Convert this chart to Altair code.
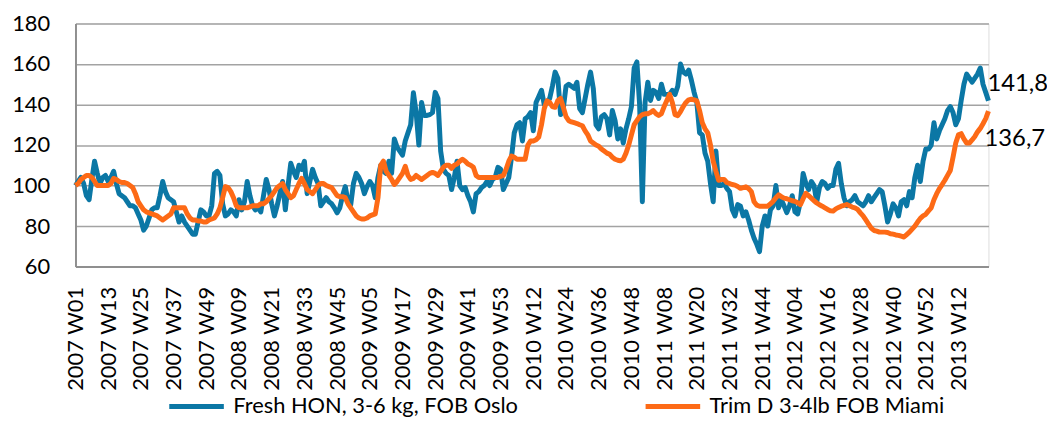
import altair as alt
import pandas as pd

# ---- categories -------------------------------------------------------------
years = [2007, 2008, 2009, 2010, 2011, 2012, 2013]
weeks_in_year = [52, 52, 53, 52, 52, 52, 23]
week_labels = [f"{y} W{w:02d}" for y, n in zip(years, weeks_in_year) for w in range(1, n + 1)]
tick_labels = week_labels[::12]

series_names = ["Fresh HON, 3-6 kg, FOB Oslo", "Trim D 3-4lb FOB Miami"]
series_colors = ["#0b77a5", "#fd6a16"]

# ---- series values (index, 2007 W01 = 100) -----------------------------------
fresh_hon = [
    100, 102, 104, 101, 95, 93, 103, 112, 106, 101, 104, 105,
    102, 104, 107, 101, 96, 95, 94, 92, 90, 90, 89, 86,
    83, 78, 80, 84, 88, 89, 89, 95, 102, 97, 94, 93,
    92, 87, 82, 85, 82, 80, 78, 76, 76, 82, 88, 87,
    85, 85, 90, 106, 107, 105, 91, 85, 86, 88, 87, 85,
    93, 88, 92, 102, 95, 90, 88, 89, 87, 95, 103, 98,
    91, 85, 90, 96, 102, 88, 100, 111, 107, 104, 110, 108,
    112, 96, 102, 108, 104, 101, 90, 92, 94, 92, 91, 89,
    86.5, 89, 95, 99.5, 92, 90.5, 101, 106, 104, 101, 96, 99.5,
    102, 100, 94, 104, 110, 107, 106, 112, 106, 123, 119, 117,
    115, 122, 126, 130, 145.8, 136, 120, 141, 134.6, 134.6, 135, 136,
    146, 143, 117, 108, 106, 105, 98, 104, 112, 100, 98, 99,
    95, 92, 87, 96, 97, 99, 100, 102, 100, 103, 104, 109,
    108, 98, 101, 104, 114, 126, 130, 131, 122, 133, 134, 136,
    127, 141, 144, 147, 140, 141, 143, 149, 156, 153, 135, 138,
    149, 150, 149, 148, 151, 138, 136, 143, 150, 156, 148, 130,
    128, 134, 135, 133, 125, 137, 132, 123, 128, 121, 128, 133,
    139, 158, 161, 140, 92, 141, 151, 142, 147, 146, 143, 150,
    145, 145, 145, 147, 145, 149, 160, 156, 155, 157, 152, 146,
    141, 126, 125, 116, 112, 101, 92, 117, 100, 100, 101, 98.6,
    97, 88, 85, 90.6, 89.8, 85, 87, 83, 78, 74, 71, 67.4,
    80, 85, 80, 88, 90, 100, 89, 93, 90, 86.6, 90, 95,
    87, 86, 92, 106, 101, 98, 102, 100, 92, 99, 102, 101,
    98.6, 100, 100, 108, 111, 101, 94, 90, 92, 93, 95, 92,
    91, 90, 92, 95, 92, 94, 96, 98, 97, 90, 82, 86,
    91, 89, 85, 92, 93, 90, 97, 94, 104, 110, 102, 112,
    118, 118, 120, 131, 123, 127, 130, 133, 137, 139, 136, 130,
    133, 142, 150, 155, 153, 151, 153, 155, 158, 150, 146, 141.8,
]

trim_d = [
    100, 101, 103, 104, 105, 105, 104, 102, 100, 100, 100, 100,
    100, 101, 103.5, 103, 102, 101.5, 101.5, 101, 100, 99, 96, 92,
    90, 88, 87, 86.5, 86, 85.5, 85, 84, 83, 84, 85, 86,
    89, 89, 89, 89, 89, 86, 84, 83, 83, 82.5, 82.5, 82,
    82, 83, 83.5, 84, 86, 89, 94, 99.5, 99, 97, 94, 90,
    89, 89, 89, 89, 89.5, 90, 90, 90, 91, 91, 92, 93.5,
    95, 97, 99, 100, 101, 98, 96, 94, 95, 98, 101, 103.5,
    101, 98, 97, 96, 98, 100, 101, 101, 100, 99.5, 99, 97,
    95, 94.5, 94.5, 94, 91, 89, 87, 85, 84, 83.5, 83.5, 84,
    85, 85.5, 86, 94, 110, 112, 107, 105, 103, 100.5, 102, 104,
    106, 109.5, 105, 103, 103.5, 105, 104, 103, 104, 105, 106, 106.5,
    106, 105, 107, 109, 110, 110, 108.5, 110, 110.6, 112, 113, 112,
    110.6, 110, 109, 105, 104, 104, 104, 104, 104, 104, 104, 104,
    104.5, 105, 108, 112, 114.6, 114, 113, 113, 113, 113, 120, 122,
    122, 122.6, 124, 130, 138, 141.8, 141, 139, 138.6, 142, 143, 138.6,
    134, 132, 131.4, 131, 130.6, 130, 129.5, 127, 125, 122, 121, 120,
    119.4, 118, 117, 116, 115.4, 114, 113, 112.5, 112.2, 113, 116, 120,
    125, 130, 132, 134, 135, 135.4, 135.4, 136, 137, 135.5, 134.6, 135.5,
    139, 142, 145, 141, 135, 134.5, 136.5, 139, 141, 142.3, 142.6, 142.3,
    141.8, 137, 131, 128, 126, 120, 112, 107, 102.6, 103, 103, 101.5,
    101, 100.5, 100.2, 99.5, 98.6, 99, 99.4, 98.5, 97, 92, 90.3, 89.8,
    89.8, 89.8, 89.8, 91, 92.2, 94, 95.4, 94.5, 93.8, 93.5, 93, 92.5,
    92.2, 91.5, 90.6, 93.5, 96.2, 95, 93.8, 92.5, 91.4, 90.5, 89.8, 89,
    88.2, 87.5, 87.4, 88.5, 89.2, 89.8, 90.2, 90.6, 90, 89.4, 89, 88.2,
    86.5, 85, 83, 81, 79, 77.8, 77.5, 77, 77, 77, 76.8, 76.2,
    76, 75.6, 75.4, 75, 74.6, 75.8, 77, 78.5, 80, 82, 83.8, 85,
    85.8, 87.5, 89, 93, 96, 98.5, 100.5, 102.6, 105, 107.4, 114, 121,
    125, 125.6, 123, 121, 121, 122.5, 124.2, 126.5, 128.2, 130.5, 133, 136.7,
]

y_ticks = [60, 80, 100, 120, 140, 160, 180]

# ---- table ------------------------------------------------------------------
rows = []
for i, wk in enumerate(week_labels):
    for name, vals in zip(series_names, [fresh_hon, trim_d]):
        v = vals[i]
        last = i == len(week_labels) - 1
        rows.append({
            "week": wk,
            "series": name,
            "value": v,
            "label": (f"{v:.1f}".replace(".", ",") if last else ""),
        })
df = pd.DataFrame(rows)

FONT = "Lato"

x_enc = alt.X(
    "week:O",
    sort=week_labels,
    scale=alt.Scale(type="point", padding=0),
    axis=alt.Axis(
        values=tick_labels,
        labelAngle=-90,
        labelAlign="right",
        labelBaseline="middle",
        labelPadding=20,
        ticks=False,
        tickSize=0,
        title=None,
        grid=False,
        labelFontSize=22,
        labelFont=FONT,
        labelColor="#000000",
        domainColor="#8f8f8f",
        domainWidth=2,
        labelOverlap=False,
    ),
)
y_enc = alt.Y(
    "value:Q",
    scale=alt.Scale(domain=[60, 180], nice=False, zero=False),
    axis=alt.Axis(
        values=y_ticks,
        title=None,
        ticks=False,
        tickSize=0,
        labelPadding=26,
        grid=True,
        gridColor="#a3a3a3",
        gridWidth=1.5,
        labelFontSize=22,
        labelFont=FONT,
        labelColor="#000000",
        domainColor="#8f8f8f",
        domainWidth=2,
    ),
)

color_enc = alt.Color(
    "series:N",
    scale=alt.Scale(domain=series_names, range=series_colors),
    legend=alt.Legend(
        orient="none",
        legendX=92,
        legendY=356,
        direction="horizontal",
        title=None,
        symbolType="stroke",
        symbolSize=3025,
        symbolStrokeWidth=5,
        labelFontSize=22,
        labelFont=FONT,
        labelColor="#000000",
        labelLimit=600,
        labelOffset=7,
        columnPadding=118,
    ),
)

lines = alt.Chart(df).mark_line(strokeWidth=5, strokeJoin="round").encode(
    x=x_enc, y=y_enc, color=color_enc
)

lbl_blue = alt.Chart(df).transform_filter(
    (alt.datum.label != "") & (alt.datum.series == series_names[0])
).mark_text(align="left", baseline="middle", dx=-1, dy=-17, fontSize=24, font=FONT, color="#000000").encode(
    x=alt.X("week:O", sort=week_labels), y="value:Q", text="label:N"
)
lbl_orange = alt.Chart(df).transform_filter(
    (alt.datum.label != "") & (alt.datum.series == series_names[1])
).mark_text(align="left", baseline="middle", dx=-4, dy=28, fontSize=24, font=FONT, color="#000000").encode(
    x=alt.X("week:O", sort=week_labels), y="value:Q", text="label:N"
)

chart = alt.layer(lines, lbl_blue, lbl_orange).properties(
    width=920,
    height=245,
    autosize=alt.AutoSizeParams(type="none"),
    padding={"left": 68, "top": 14, "right": 59, "bottom": 150},
).configure_view(stroke=None).configure(background="#ffffff")

chart.save("out.html", embed_options={"renderer": "svg", "actions": False})
